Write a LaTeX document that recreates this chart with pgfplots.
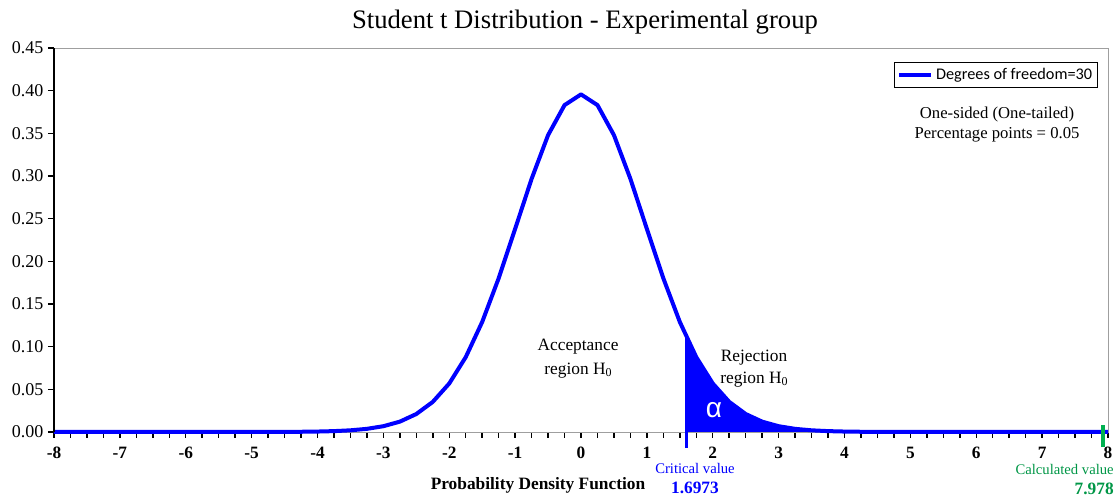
\documentclass[border=0pt]{standalone}
\usepackage{pgfplots}
\pgfplotsset{compat=1.18}
\usepackage{fontspec}
\setmainfont{Liberation Serif}
\newfontfamily\calibri{Carlito}
\newfontfamily\arialf{Liberation Sans}
\definecolor{myblue}{RGB}{0,0,255}
\definecolor{mygreen}{RGB}{0,176,80}
\definecolor{mygreentext}{RGB}{0,150,70}
\begin{document}
\begin{tikzpicture}
\path[use as bounding box] (-40.5pt,-49.5pt) rectangle (799.5pt,324pt);
\begin{axis}[
  at={(0,0)}, anchor=south west,
  scale only axis, width=790.5pt, height=288pt,
  xmin=-8, xmax=8, ymin=0, ymax=0.45,
  clip=false,
  axis line style={draw=gray!75, line width=0.6pt},
  tick pos=left, tick align=outside,
  major tick length=4.5pt, minor tick length=4.5pt,
  every tick/.style={black, line width=1.1pt},
  xtick={-8,-7,...,8},
  xticklabels={-8,-7,-6,-5,-4,-3,-2,-1,0,1,2,3,4,5,6,7,8},
  minor x tick num=3,
  xticklabel style={font=\bfseries\fontsize{13}{15}\selectfont, inner ysep=0pt, yshift=-6.6pt},
  ytick={0,0.05,...,0.451},
  yticklabel style={font=\fontsize{13.5}{15}\selectfont, /pgf/number format/.cd, fixed, fixed zerofill, precision=2, assume math mode=true},
  legend style={at={(rel axis cs:0.9905,0.9635)}, anchor=north east, draw=black, line width=0.9pt,
    font=\calibri\fontsize{12.2}{14}\selectfont, inner xsep=2pt, inner ysep=2.5pt, row sep=0pt},
  legend image code/.code={\draw[#1] (0pt,0pt) -- (24pt,0pt);},
  legend cell align=left,
]
% shaded rejection region
\addplot[fill=myblue, draw=none, forget plot] coordinates {
(1.6,0) (1.6,0.1125) (1.75,0.08769) (2,0.05685) (2.25,0.03528) (2.5,0.02106) (2.75,0.01213) (3,0.00678) (3.25,0.003689) (3.5,0.00196) (3.75,0.001022) (4,0.000525) (4.5,0.000133) (5,0)
} \closedcycle;
% critical value marker
\addplot[myblue, line width=2.4pt, forget plot] coordinates {(1.6,-0.0188) (1.6,0.1125)};
% t distribution curve
\addplot[myblue, line width=3pt, line join=round] coordinates {
(-8,0) (-7,0) (-6,0.000005) (-5,0.000033) (-4.75,0.000066) (-4.5,0.000133) (-4.25,0.000266) (-4,0.000525) (-3.75,0.001022) (-3.5,0.00196) (-3.25,0.003689) (-3,0.00678) (-2.75,0.01213) (-2.5,0.02106) (-2.25,0.03528) (-2,0.05685) (-1.75,0.08769) (-1.5,0.12896) (-1.25,0.1801) (-1,0.23799) (-0.75,0.29664) (-0.5,0.34788) (-0.25,0.38307) (0,0.39563)
(0.25,0.38307) (0.5,0.34788) (0.75,0.29664) (1,0.23799) (1.25,0.1801) (1.5,0.12896) (1.75,0.08769) (2,0.05685) (2.25,0.03528) (2.5,0.02106) (2.75,0.01213) (3,0.00678) (3.25,0.003689) (3.5,0.00196) (3.75,0.001022) (4,0.000525) (4.25,0.000266) (4.5,0.000133) (4.75,0.000066) (5,0.000033) (6,0.000005) (7,0) (8,0)
};
\addlegendentry{Degrees of freedom=30}
% calculated value marker
\addplot[mygreen, line width=3pt, forget plot] coordinates {(7.93,-0.0176) (7.93,0.0082)};
% left axis line
\draw[black, line width=1.5pt] (rel axis cs:0,0) -- (rel axis cs:0,1);
% texts
\node[font=\fontsize{20}{24}\selectfont] at (axis cs:0.06,0.4805) {Student t Distribution - Experimental group};
\node[font=\bfseries\fontsize{13}{15}\selectfont] at (axis cs:-0.653,-0.0621) {Probability Density Function};
\node[font=\fontsize{11}{13}\selectfont, text=myblue, inner sep=0pt] at (axis cs:1.73,-0.0428) {Critical value};
\node[font=\bfseries\fontsize{13}{15}\selectfont, text=myblue, inner sep=0pt] at (axis cs:1.73,-0.0655) {1.6973};
\node[font=\fontsize{11}{13}\selectfont, text=mygreentext, anchor=east, inner sep=0pt] at (axis cs:8.09,-0.0438) {Calculated value};
\node[font=\bfseries\fontsize{13}{15}\selectfont, text=mygreentext, anchor=east, inner sep=0pt] at (axis cs:8.09,-0.0665) {7.978};
\node[font=\fontsize{13}{18.5}\selectfont, align=center] at (axis cs:-0.045,0.086) {Acceptance\\region H{\fontsize{9}{9}\selectfont\raisebox{-1pt}{0}}};
\node[font=\fontsize{13}{16.5}\selectfont, align=center] at (axis cs:2.626,0.0738) {Rejection\\region H{\fontsize{9}{9}\selectfont\raisebox{-1pt}{0}}};
\node[font=\arialf\fontsize{21}{24}\selectfont, text=white] at (axis cs:2.02,0.0258) {α};
\node[font=\fontsize{12.5}{14.3}\selectfont, align=center] at (axis cs:6.315,0.3603) {One-sided (One-tailed)\\Percentage points = 0.05};
\end{axis}
\end{tikzpicture}
\end{document}
